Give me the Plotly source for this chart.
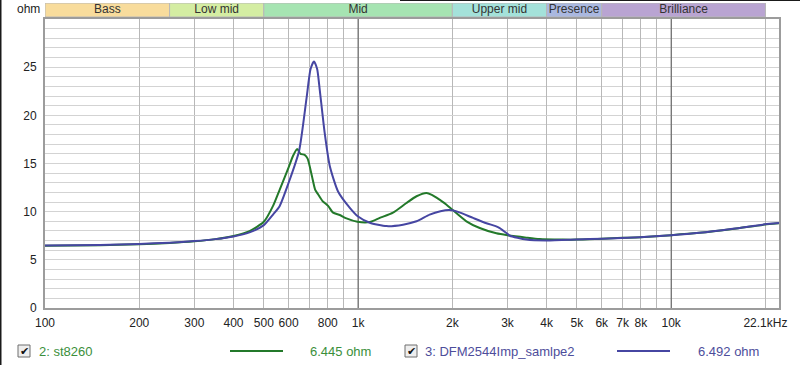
import math
import plotly.graph_objects as go

# ---------------- data ----------------
green_name = "2: st8260"
green_value = "6.445 ohm"
green_f = [100, 150, 200, 250, 300, 350, 400, 450, 500, 535, 562, 600, 620, 639, 655, 675, 690,
           712, 729, 745, 770, 802, 832, 874, 918, 995, 1090, 1173, 1293, 1427, 1537, 1654, 1720,
           1780, 1912, 2000, 2218, 2446, 2765, 3000, 3447, 3800, 4500, 5000, 6000, 7000, 8000,
           10000, 12300, 15700, 20600, 22100]
green_z = [6.45, 6.52, 6.62, 6.75, 6.92, 7.15, 7.48, 7.98, 8.95, 10.6, 12.3, 14.6, 15.8, 16.5, 16.0,
           15.9, 15.5, 13.7, 12.3, 11.8, 11.1, 10.6, 9.9, 9.65, 9.3, 8.95, 8.92, 9.35, 9.9, 10.9,
           11.6, 11.95, 11.75, 11.45, 10.75, 10.2, 9.0, 8.3, 7.75, 7.55, 7.3, 7.15, 7.1, 7.1, 7.2,
           7.28, 7.35, 7.56, 7.8, 8.2, 8.72, 8.8]

blue_name = "3: DFM2544Imp_samlpe2"
blue_value = "6.492 ohm"
blue_f = [100, 150, 200, 250, 300, 350, 400, 450, 500, 535, 562, 600, 648, 684, 705, 723, 740, 754,
          782, 812, 863, 941, 1000, 1090, 1232, 1392, 1537, 1693, 1833, 1959, 2098, 2329, 2570,
          2750, 2834, 3000, 3053, 3447, 3994, 4977, 6053, 7925, 10000, 12320, 15740, 20620, 22100]
blue_z = [6.5, 6.55, 6.65, 6.78, 6.95, 7.15, 7.42, 7.85, 8.6, 9.7, 10.6, 13.0, 16.3, 21.7, 24.8,
          25.6, 24.8, 22.7, 18.2, 14.75, 12.1, 10.4, 9.5, 8.85, 8.5, 8.65, 9.0, 9.7, 10.05, 10.17,
          9.95, 9.35, 8.8, 8.5, 8.3, 7.7, 7.5, 7.1, 7.0, 7.1, 7.2, 7.35, 7.56, 7.81, 8.23, 8.75, 8.82]

band_names = ["Bass", "Low mid", "Mid", "Upper mid", "Presence", "Brilliance"]
band_lo = [100, 250, 500, 2000, 4000, 6000]
band_hi = [250, 500, 2000, 4000, 6000, 20000]
band_colors = ["#F8DC9C", "#D4EDA2", "#A6E4B2", "#A4E2DA", "#AAB8E0", "#B9A4D2"]

x_tickvals = [100, 200, 300, 400, 500, 600, 700, 800, 900, 1000, 2000, 3000, 4000, 5000, 6000,
              7000, 8000, 9000, 10000, 20000]
x_ticktext = ["100", "200", "300", "400", "500", "600", "", "800", "", "1k", "2k", "3k", "4k",
              "5k", "6k", "7k", "8k", "", "10k", "22.1kHz"]
y_tickvals = [0, 5, 10, 15, 20, 25]
y_range = [0, 30]
dark_grid_f = [1000, 10000]

# ---------------- layout geometry ----------------
W, H = 800, 365
L, R, T, B = 45, 21, 3, 57
PW = W - L - R
PH = H - T - B


def px(x):
    return (x - L) / PW


def py(y):
    return (H - B - y) / PH


GREEN = "#23792a"
GREEN_TXT = "#3b8f3b"
BLUE = "#4646a2"
BLUE_TXT = "#4d4d9b"
FONT = "Liberation Sans, Arial, sans-serif"

fig = go.Figure()

# dark 1k / 10k grid lines
for f in dark_grid_f:
    fig.add_trace(go.Scatter(x=[f, f], y=y_range, mode="lines",
                             line=dict(color="#5a5a5a", width=1), hoverinfo="skip",
                             showlegend=False))

fig.add_trace(go.Scatter(x=green_f, y=green_z, mode="lines", name=green_name,
                         line=dict(color=GREEN, width=2, shape="spline", smoothing=0.6),
                         showlegend=False))
fig.add_trace(go.Scatter(x=blue_f, y=blue_z, mode="lines", name=blue_name,
                         line=dict(color=BLUE, width=2, shape="spline", smoothing=0.6),
                         showlegend=False))

# frequency bands strip
for name, lo, hi, col in zip(band_names, band_lo, band_hi, band_colors):
    fig.add_trace(go.Scatter(x=[lo, hi, hi, lo, lo], y=[0, 0, 1, 1, 0], yaxis="y2",
                             mode="lines", fill="toself", fillcolor=col,
                             line=dict(color="#b8b8b8", width=1), hoverinfo="skip",
                             showlegend=False))
    fig.add_trace(go.Scatter(x=[math.sqrt(lo * hi)], y=[0.5], yaxis="y2", mode="text",
                             text=[name], textfont=dict(family=FONT, size=12, color="#333333"),
                             hoverinfo="skip", showlegend=False))

fig.update_layout(
    width=W, height=H,
    margin=dict(l=L, r=R, t=T, b=B, pad=0),
    paper_bgcolor="white", plot_bgcolor="white",
    font=dict(family=FONT, size=12, color="#222222"),
    xaxis=dict(type="log", range=[math.log10(100), math.log10(22100)],
               tickmode="array", tickvals=x_tickvals, ticktext=x_ticktext,
               showgrid=True, gridcolor="#b8b8b8", gridwidth=1,
               showline=True, mirror=True, linecolor="#9c9c9c", linewidth=2,
               ticks="", ticklabelstandoff=3, zeroline=False,
               tickfont=dict(family=FONT, size=12, color="#222222")),
    yaxis=dict(domain=[0, py(19)], range=y_range, tickmode="array", tickvals=y_tickvals,
               showgrid=True, gridcolor="#d3d3d3", gridwidth=1,
               minor=dict(tickmode="linear", tick0=0, dtick=1, showgrid=True,
                          gridcolor="#d3d3d3", ticklen=0),
               showline=True, mirror=True, linecolor="#9c9c9c", linewidth=2,
               ticks="", ticklabelstandoff=4, zeroline=False,
               tickfont=dict(family=FONT, size=12, color="#222222")),
    yaxis2=dict(domain=[py(17), py(3)], range=[0, 1], anchor="x",
                showgrid=False, showticklabels=False, zeroline=False, fixedrange=True),
    hovermode=False,
)


def label(text, x, y, color, size=13, xanchor="left"):
    return dict(text=text, x=px(x), y=py(y), xref="paper", yref="paper", showarrow=False,
                xanchor=xanchor, yanchor="middle",
                font=dict(family=FONT, size=size, color=color))


annotations = [
    label("ohm", 28, 9, "#222222", size=12, xanchor="center"),
    label(green_name, 37, 351, GREEN_TXT),
    label(green_value, 308, 351, GREEN_TXT),
    label(blue_name, 423, 351, BLUE_TXT),
    label(blue_value, 696, 351, BLUE_TXT),
]
shapes = [
    # legend line samples
    dict(type="line", xref="paper", yref="paper", x0=px(230), x1=px(283), y0=py(351), y1=py(351),
         line=dict(color=GREEN, width=2)),
    dict(type="line", xref="paper", yref="paper", x0=px(617), x1=px(670), y0=py(351), y1=py(351),
         line=dict(color=BLUE, width=2)),
    # window border
    dict(type="line", xref="paper", yref="paper", x0=px(0.5), x1=px(0.5), y0=py(0), y1=py(365),
         line=dict(color="#1a1a1a", width=2)),
    dict(type="line", xref="paper", yref="paper", x0=px(400), x1=px(800), y0=py(0.5), y1=py(0.5),
         line=dict(color="#1a1a1a", width=1)),
]
# checkboxes
for cx in (18, 405):
    shapes.append(dict(type="rect", xref="paper", yref="paper", x0=px(cx), x1=px(cx + 12),
                       y0=py(357), y1=py(345), line=dict(color="#6e6e6e", width=1),
                       fillcolor="#eeeeee"))
    annotations.append(dict(text="✔", x=px(cx + 6.5), y=py(351), xref="paper", yref="paper",
                            xanchor="center", yanchor="middle",
                            showarrow=False, font=dict(family="DejaVu Sans", size=11,
                                                       color="#111111")))

fig.update_layout(annotations=annotations, shapes=shapes)

fig.write_html("out.html", config={"displayModeBar": False},
               post_script="document.body.style.margin='0px';document.body.style.padding='0px';")
